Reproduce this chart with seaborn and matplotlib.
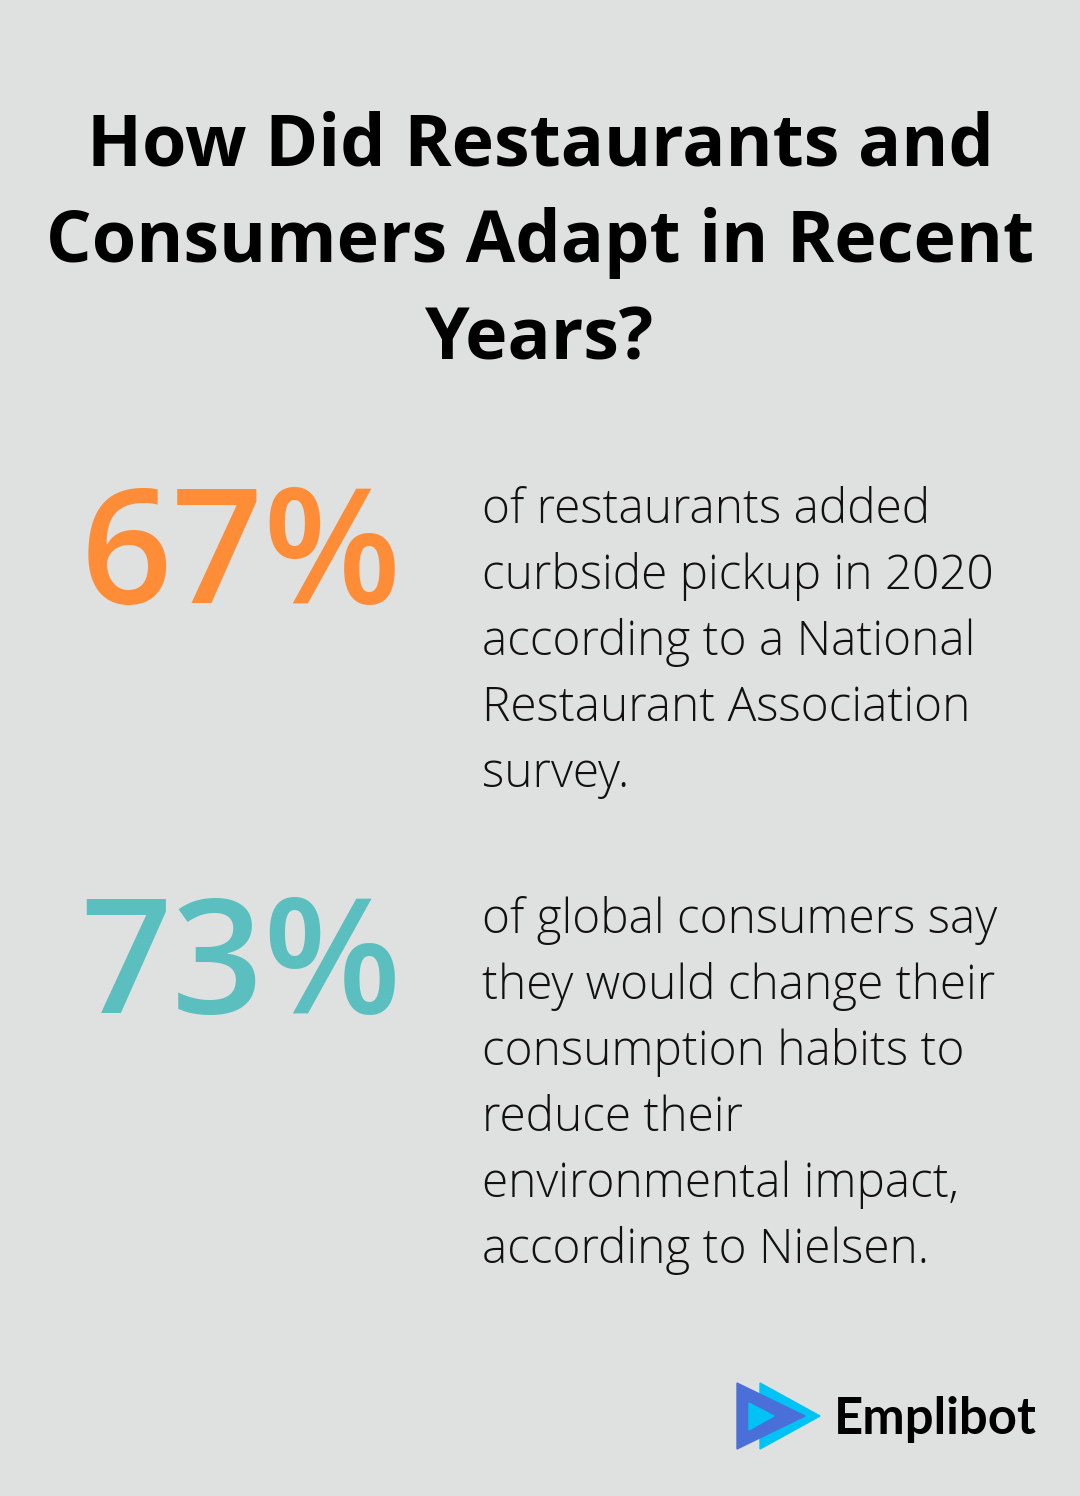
import matplotlib
matplotlib.use("Agg")
import matplotlib.pyplot as plt
import seaborn as sns
from matplotlib.patches import Polygon

title_lines = ["How Did Restaurants and", "Consumers Adapt in Recent", "Years?"]
stat_values = ["67%", "73%"]
stat_colors = ["#FF8C36", "#5BBFBF"]
stat_texts = [
    ["of restaurants added", "curbside pickup in 2020", "according to a National",
     "Restaurant Association", "survey."],
    ["of global consumers say", "they would change their", "consumption habits to",
     "reduce their", "environmental impact,", "according to Nielsen."],
]
brand = "Emplibot"

BG = "#DFE1E0"
sns.set_theme(style="white")
plt.rcParams['font.family'] = ['Open Sans', 'DejaVu Sans']

fig = plt.figure(figsize=(10.8, 14.96), dpi=100, facecolor=BG)
ax = fig.add_axes([0, 0, 1, 1])
ax.set_facecolor(BG)
ax.set_xlim(0, 1080)
ax.set_ylim(1496, 0)
ax.axis("off")

# Title
for i, line in enumerate(title_lines):
    ax.text(540, 165 + i * 97, line, ha="center", va="baseline",
            fontsize=51.7, fontweight="bold", color="#000000")

# Stats
block_tops = [523, 933]
for val, col, lines, base in zip(stat_values, stat_colors, stat_texts, block_tops):
    ax.text(241, base + 80, val, ha="center", va="baseline",
            fontsize=115.5, fontweight="semibold", color=col)
    for j, ln in enumerate(lines):
        ax.text(482, base + j * 66, ln, ha="left", va="baseline",
                fontsize=34.4, fontweight="light", color="#111111")

# Logo
ax.add_patch(Polygon([[760, 1383], [760, 1449], [820, 1416]], closed=True,
                     color="#00C3F5", zorder=2))
ax.add_patch(Polygon([[737, 1383], [737, 1449], [805, 1416]], closed=True,
                     color="#4A6FD8", zorder=3))
ax.add_patch(Polygon([[749, 1403], [749, 1430], [774, 1416]], closed=True,
                     color="#00C3F5", zorder=4))
ax.text(834, 1434, brand, ha="left", va="baseline", fontsize=36.5,
        fontweight="bold", color="#000000", family=["Lato", "DejaVu Sans"])

fig.savefig("out.png", dpi=100, facecolor=BG)
